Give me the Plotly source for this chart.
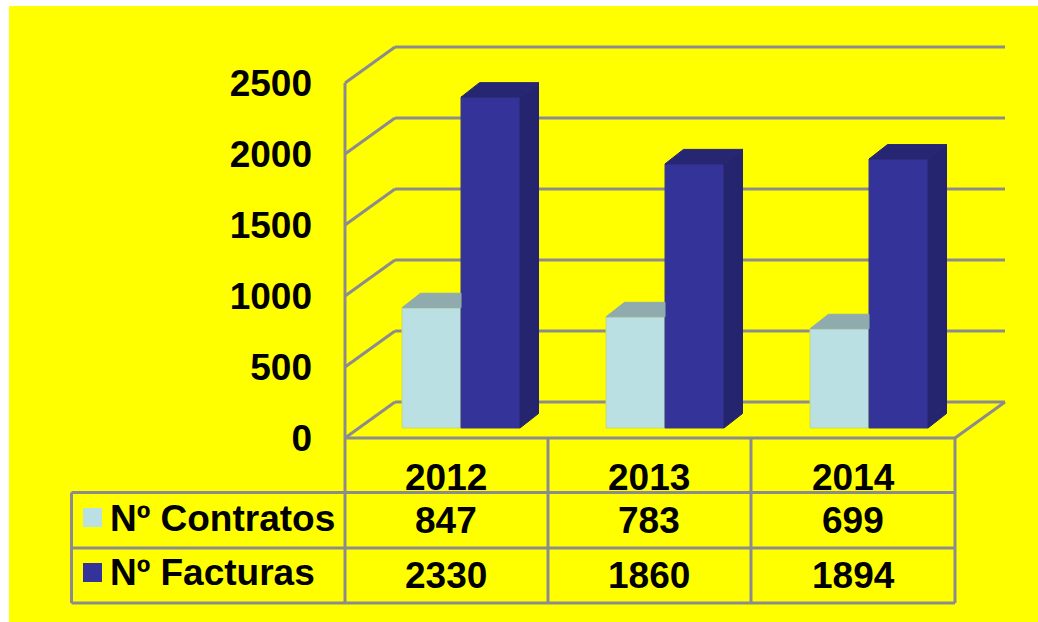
import plotly.graph_objects as go

# ---- data ----
years = ["2012", "2013", "2014"]
contratos = [847, 783, 699]
facturas = [2330, 1860, 1894]
y_ticks = [0, 500, 1000, 1500, 2000, 2500]
series_names = ["Nº Contratos", "Nº Facturas"]

# ---- layout / style ----
W, H = 1038, 622
FONT = "Liberation Sans, Arial, sans-serif"
FS = 37
GREY = "#8C8C8C"
LIGHT, LIGHT_TOP = "#BBE0E3", "#8FABAE"
BLUE, BLUE_SIDE, BLUE_TOP = "#333399", "#25256F", "#262673"

PX_L, PX_R = 341, 1008      # axes area, pixels (a little larger than the walls)
PX_T, PX_B = 44, 442
WALL_L, WALL_R = 345, 1005
ZERO_PX = 438
UX = 204.0                  # pixels per category
UY = 0.142                  # pixels per value unit
X0 = 461                    # pixel of the boundary between the first two bars

def dx(px):
    return px / UX

def dy(px):
    return px / UY

xr = [(PX_L - X0) / UX, (PX_R - X0) / UX]
yr = [(ZERO_PX - PX_B) / UY, (ZERO_PX - PX_T) / UY]
xs = list(range(len(years)))
left = (WALL_L - X0) / UX
right = (WALL_R - X0) / UX

WALL_DX, WALL_DY = dx(50), dy(36)
FLOOR = dy(10)              # bars stand slightly behind the front edge
BAR_W = 59 / UX
DEPTH_X, DEPTH_Y = dx(18.5), dy(14.5)

def xp(px):
    return px / W

def yp(px):
    return 1 - px / H

shapes = [dict(type="rect", xref="paper", yref="paper", x0=xp(9), x1=1, y0=0, y1=yp(6),
               fillcolor="#FFFF00", line_width=0, layer="below")]

def line(x0, y0, x1, y1, xref="x", yref="y", layer="below", color=GREY):
    shapes.append(dict(type="line", xref=xref, yref=yref, x0=x0, y0=y0, x1=x1, y1=y1,
                       line=dict(color=color, width=3), layer=layer))

# walls and floor
for t in y_ticks:
    line(left, t, left + WALL_DX, t + WALL_DY)
    line(left + WALL_DX, t + WALL_DY, right, t + WALL_DY)
line(left, 0, left, y_ticks[-1])
front_r = (955 - X0) / UX
line(front_r, 0, right, WALL_DY)
line(left, 0, front_r, 0)

# data table
table_v = [345, 548, 751, 955]
table_h = [492.5, 548, 603]
for v in table_v:
    line(xp(v), yp(438), xp(v), yp(table_h[-1]), "paper", "paper")
for h in table_h:
    line(xp(71.5), yp(h), xp(955), yp(h), "paper", "paper")
line(xp(71.5), yp(table_h[0]), xp(71.5), yp(table_h[-1]), "paper", "paper")

# legend keys in the table
for top, colr in zip([508, 563], [LIGHT, BLUE]):
    shapes.append(dict(type="rect", xref="paper", yref="paper", x0=xp(83), x1=xp(102),
                       y0=yp(top + 19), y1=yp(top), fillcolor=colr, line_width=0))

fig = go.Figure()

# front faces
fig.add_bar(x=xs, y=contratos, base=FLOOR, width=BAR_W, offset=-BAR_W, name=series_names[0],
            marker=dict(color=LIGHT, line=dict(color="#C8D86A", width=1)))
fig.add_bar(x=xs, y=facturas, base=FLOOR, width=BAR_W, offset=0, name=series_names[1],
            marker=dict(color=BLUE, line=dict(color="#3A3A8A", width=1)))

def poly(px, py, colr):
    fig.add_scatter(x=px, y=py, mode="lines", fill="toself", fillcolor=colr,
                    line=dict(color=colr, width=1), hoverinfo="skip", showlegend=False)

# visible top of the light bars, up to the dark bar beside them
for x, v in zip(xs, contratos):
    top = FLOOR + v
    poly([x - BAR_W, x, x, x - BAR_W + DEPTH_X, x - BAR_W],
         [top, top, top + DEPTH_Y, top + DEPTH_Y, top], LIGHT_TOP)

# side and top of the dark bars
for x, v in zip(xs, facturas):
    top = FLOOR + v
    poly([x + BAR_W, x + BAR_W + DEPTH_X, x + BAR_W + DEPTH_X, x + BAR_W, x + BAR_W],
         [FLOOR, FLOOR + DEPTH_Y, top + DEPTH_Y, top, FLOOR], BLUE_SIDE)
    poly([x, x + BAR_W, x + BAR_W + DEPTH_X, x + DEPTH_X, x],
         [top, top, top + DEPTH_Y, top + DEPTH_Y, top], BLUE_TOP)

# table text
notes = []
def txt(s, px, py, anchor="center"):
    notes.append(dict(text=f"<b>{s}</b>", xref="paper", yref="paper", x=xp(px), y=yp(py),
                      xanchor=anchor, yanchor="middle", showarrow=False,
                      font=dict(family=FONT, size=FS, color="#000000")))

col_c = [446, 649, 853]
for c, yr_lab, a, b in zip(col_c, years, contratos, facturas):
    txt(yr_lab, c, 477)
    txt(str(a), c, 520)
    txt(str(b), c, 575)
txt(series_names[0], 108, 518, "left")
txt(series_names[1], 108, 572, "left")

fig.update_layout(
    width=W, height=H, margin=dict(l=0, r=0, t=0, b=0), autosize=False,
    paper_bgcolor="#FFFFFF", plot_bgcolor="rgba(0,0,0,0)",
    barmode="overlay", showlegend=False, shapes=shapes, annotations=notes,
    xaxis=dict(domain=[xp(PX_L), xp(PX_R)], range=xr, visible=False, fixedrange=True,
               automargin=False),
    yaxis=dict(domain=[yp(PX_B), yp(PX_T)], range=yr, tickvals=y_ticks, automargin=False,
               ticktext=[f"<b>{t}</b>" for t in y_ticks], showgrid=False, zeroline=False,
               showline=False, ticks="", ticklabelstandoff=28, fixedrange=True,
               tickfont=dict(family=FONT, size=FS, color="#000000")),
)

fig.write_html("out.html", config=dict(displayModeBar=False),
               post_script="document.body.style.margin='0';"
                           "document.documentElement.style.overflow='hidden';")
